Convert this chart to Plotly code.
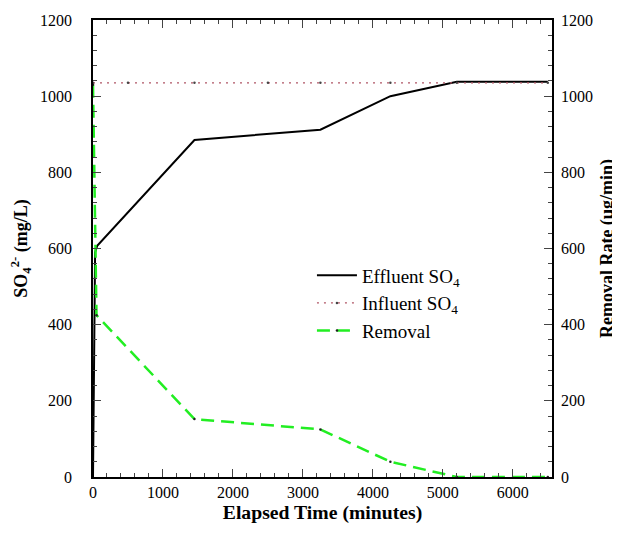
import plotly.graph_objects as go

# Data
eff_t = [0, 30, 60, 1450, 3250, 4250, 5200, 6500]
eff_so4 = [0, 590, 607, 885, 912, 1000, 1038, 1038]

inf_t = [0, 500, 1450, 2500, 3250, 4250, 5200, 6500]
inf_so4 = [1035, 1035, 1035, 1035, 1035, 1035, 1035, 1035]

rem_t = [0, 50, 1450, 3250, 4250, 5200, 6500]
rem_rate = [1030, 425, 152, 125, 40, 0, 0]

x_ticks = [0, 1000, 2000, 3000, 4000, 5000, 6000]
y_ticks = [0, 200, 400, 600, 800, 1000, 1200]

FONT = "Times New Roman"

fig = go.Figure()
fig.add_trace(go.Scatter(
    x=eff_t, y=eff_so4, mode="lines", name="Effluent SO<sub>4</sub>",
    line=dict(color="black", width=2), cliponaxis=False))
fig.add_trace(go.Scatter(
    x=inf_t, y=inf_so4, mode="lines+markers", name="Influent SO<sub>4</sub>",
    line=dict(color="#b05565", width=1.3, dash="2px,5px"),
    marker=dict(color="#444444", size=2.5), cliponaxis=False))
fig.add_trace(go.Scatter(
    x=rem_t, y=rem_rate, mode="lines+markers", name="Removal", yaxis="y2",
    line=dict(color="#22ee22", width=2.5, dash="13px,7px"),
    marker=dict(color="#222222", size=2.5), cliponaxis=False))

axis_font = dict(family=FONT, size=16, color="black")
title_font = dict(family=FONT, size=18, color="black")

fig.update_layout(
    width=620, height=533,
    margin=dict(l=85, r=76, t=12, b=64),
    paper_bgcolor="white", plot_bgcolor="white",
    font=dict(family=FONT, color="black"),
    showlegend=True,
    legend=dict(x=0.477, y=0.38, xanchor="left", yanchor="middle",
                bgcolor="rgba(0,0,0,0)", font=dict(family=FONT, size=19, color="black"),
                itemwidth=40),
    xaxis=dict(
        range=[0, 6560], tickvals=x_ticks, ticks="inside", ticklen=8,
        showline=True, linecolor="black", linewidth=1.5, mirror="ticks",
        showgrid=False, zeroline=False, tickfont=axis_font, automargin=False,
        minor=dict(dtick=200, ticks="inside", ticklen=4, showgrid=False),
        title=dict(text="<b>Elapsed Time (minutes)</b>", font=dict(family=FONT, size=19.7, color="black"), standoff=4)),
    yaxis=dict(
        range=[0, 1200], tickvals=y_ticks, ticks="inside", ticklen=8,
        showline=True, linecolor="black", linewidth=1.5, ticklabelstandoff=16,
        showgrid=False, zeroline=False, tickfont=axis_font, automargin=False,
        minor=dict(dtick=40, ticks="inside", ticklen=4, showgrid=False),
        title=dict(text="<b>SO<sub>4</sub><sup>2-</sup> (mg/L)</b>", font=title_font, standoff=8)),
    yaxis2=dict(
        range=[0, 1200], tickvals=y_ticks, ticks="inside", ticklen=8,
        overlaying="y", side="right", ticklabelstandoff=4,
        showline=True, linecolor="black", linewidth=1.5,
        showgrid=False, zeroline=False, tickfont=axis_font, automargin=False,
        minor=dict(dtick=40, ticks="inside", ticklen=4, showgrid=False),
        title=dict(text="<b>Removal Rate (μg/min)</b>", font=title_font, standoff=8)),
)

fig.write_html("out.html")
